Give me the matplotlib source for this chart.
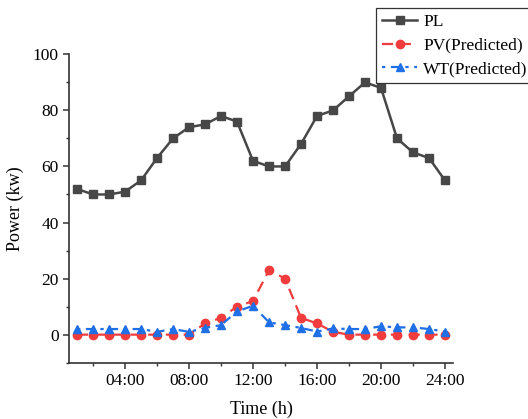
import matplotlib.pyplot as plt
from matplotlib.ticker import MultipleLocator

plt.rcParams['font.family'] = ['Liberation Serif', 'DejaVu Serif']

hours = list(range(1, 25))
pl = [52, 50, 50, 51, 55, 63, 70, 74, 75, 78, 76, 62,
      60, 60, 68, 78, 80, 85, 90, 88, 70, 65, 63, 55]
pv = [0, 0, 0, 0, 0, 0, 0, 0, 4, 6, 10, 12,
      23, 20, 6, 4, 1, 0, 0, 0, 0, 0, 0, 0]
wt = [2, 2, 2, 2, 2, 1, 2, 1, 2.4, 3.4, 8.3, 10.3,
      4.4, 3.4, 2.4, 1.1, 2.2, 2, 2, 3, 2.6, 2.6, 2, 1.1]
tick_pos = [4, 8, 12, 16, 20, 24]
tick_labels = ['04:00', '08:00', '12:00', '16:00', '20:00', '24:00']

fig = plt.figure(figsize=(5.28, 4.19), dpi=100)
ax = fig.add_axes([0.1307, 0.1344, 0.858 - 0.1307, 0.8704 - 0.1344])

ax.plot(hours, pl, color='#474747', lw=1.8, marker='s', ms=5.5, label='PL')
ax.plot(hours, pv, color='#f03c3c', lw=1.6, ls=(0, (5, 3)), marker='o', ms=6,
        label='PV(Predicted)')
ax.plot(hours, wt, color='#1f6fe6', lw=1.6, ls=(0, (1.5, 2.5, 4, 2.5)), marker='^', ms=6,
        label='WT(Predicted)')

ax.set_xlim(0.5, 24.5)
ax.set_ylim(-10, 100)
ax.set_xticks(tick_pos)
ax.set_xticklabels(tick_labels)
ax.xaxis.set_minor_locator(MultipleLocator(2))
ax.set_yticks([0, 20, 40, 60, 80, 100])
ax.yaxis.set_minor_locator(MultipleLocator(10))

for s in ['top', 'right']:
    ax.spines[s].set_visible(False)
for s in ['left', 'bottom']:
    ax.spines[s].set_linewidth(1.2)
    ax.spines[s].set_color('#333333')
ax.tick_params(which='major', direction='out', length=4, width=1.1, labelsize=12.5, color='#333333')
ax.tick_params(which='minor', direction='out', length=2.5, width=1.0, color='#333333')

ax.set_xlabel('Time (h)', fontsize=13, labelpad=8)
ax.set_ylabel('Power (kw)', fontsize=13, labelpad=6)

leg = ax.legend(loc='upper left', bbox_to_anchor=(0.8, 1.15), fontsize=12.5,
                frameon=True, fancybox=False, edgecolor='#333333', framealpha=1,
                handlelength=2.0, handletextpad=0.35, borderpad=0.35, labelspacing=0.42,
                borderaxespad=0)
leg.get_frame().set_linewidth(0.9)

plt.savefig('out.png', dpi=100)
